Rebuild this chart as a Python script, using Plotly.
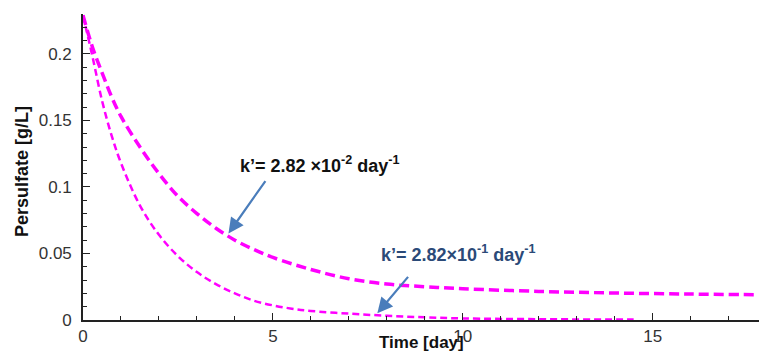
import plotly.graph_objects as go

# Upper curve (k' = 2.82e-2 day^-1)
upper_x = [0, 0.25, 0.5, 0.75, 1, 1.5, 2, 2.5, 3, 3.5, 4, 4.5, 5, 6, 7, 8, 9, 10, 12, 14, 16, 17.8]
upper_y = [0.229, 0.205, 0.186, 0.168, 0.153, 0.130, 0.110, 0.093, 0.080, 0.069, 0.060, 0.053,
           0.047, 0.038, 0.031, 0.027, 0.025, 0.0235, 0.0215, 0.0203, 0.0195, 0.019]

# Lower curve (k' = 2.82e-1 day^-1)
lower_x = [0, 0.25, 0.5, 0.75, 1, 1.5, 2, 2.5, 3, 3.5, 4, 4.5, 5, 5.5, 6, 7, 8, 9, 10, 12, 14.5]
lower_y = [0.229, 0.198, 0.165, 0.139, 0.118, 0.086, 0.064, 0.048, 0.036, 0.027, 0.020, 0.0145,
           0.011, 0.0085, 0.0068, 0.0048, 0.0032, 0.0020, 0.0012, 0.0006, 0.0003]

x_ticks = [0, 5, 10, 15]
y_ticks = [0, 0.05, 0.1, 0.15, 0.2]
y_tick_labels = ["0", "0.05", "0.1", "0.15", "0.2"]

x_title = "Time [day]"
y_title = "Persulfate [g/L]"
label_upper = "k’= 2.82 ×10<sup>-2</sup> day<sup>-1</sup>"
label_lower = "k’= 2.82×10<sup>-1</sup> day<sup>-1</sup>"

MAG = "#ff00ff"
ARROW = "#4a7dbb"
FONT = "Liberation Sans, Arial, sans-serif"

fig = go.Figure()
fig.add_trace(go.Scatter(x=upper_x, y=upper_y, mode="lines", line_shape="spline",
                         line=dict(color=MAG, width=3.5, dash="10px,5px"), showlegend=False))
fig.add_trace(go.Scatter(x=lower_x, y=lower_y, mode="lines", line_shape="spline",
                         line=dict(color=MAG, width=2.5, dash="7px,4px"), showlegend=False))

fig.update_layout(
    width=759, height=360,
    margin=dict(l=83, r=0, t=14, b=40),
    paper_bgcolor="white", plot_bgcolor="white",
    font=dict(family=FONT, size=17, color="#333333"),
    xaxis=dict(range=[0, 17.8], showgrid=False, zeroline=False, showline=True,
               linecolor="#222222", linewidth=1.6,
               tickmode="array", tickvals=x_ticks, ticktext=[str(v) for v in x_ticks],
               ticks="inside", ticklen=7, tickwidth=1.3, tickcolor="#222222",
               minor=dict(dtick=1, ticks="inside", ticklen=4, tickwidth=1.2, tickcolor="#222222"),
               tickfont=dict(size=17, color="#333333"), ticklabelstandoff=0),
    yaxis=dict(range=[0, 0.23], showgrid=False, zeroline=False, showline=True,
               linecolor="#222222", linewidth=1.6,
               tickmode="array", tickvals=y_ticks, ticktext=y_tick_labels,
               ticks="inside", ticklen=7, tickwidth=1.3, tickcolor="#222222",
               minor=dict(dtick=0.01, ticks="inside", ticklen=4, tickwidth=1.2, tickcolor="#222222"),
               tickfont=dict(size=17, color="#333333"), ticklabelstandoff=6),
)

# axis titles
fig.add_annotation(x=0.5, y=-0.072, xref="paper", yref="paper", text="<b>" + x_title + "</b>",
                   showarrow=False, xanchor="center", yanchor="middle",
                   font=dict(family=FONT, size=17, color="#111111"))
fig.add_annotation(x=-0.090, y=0.484, xref="paper", yref="paper", text="<b>" + y_title + "</b>",
                   showarrow=False, xanchor="center", yanchor="middle", textangle=-90,
                   font=dict(family=FONT, size=18, color="#111111"))

# text labels
fig.add_annotation(x=4.08, y=0.117, xref="x", yref="y", text="<b>" + label_upper + "</b>",
                   showarrow=False, xanchor="left", yanchor="middle",
                   font=dict(family=FONT, size=18, color="#111111"))
fig.add_annotation(x=7.80, y=0.050, xref="x", yref="y", text="<b>" + label_lower + "</b>",
                   showarrow=False, xanchor="left", yanchor="middle",
                   font=dict(family=FONT, size=18, color="#2b4a78"))

# arrows
fig.add_annotation(x=3.83, y=0.065, xref="x", yref="y", text="", showarrow=True,
                   ax=38, ay=-54, arrowhead=2, arrowsize=1.4, arrowwidth=2.2, arrowcolor=ARROW)
fig.add_annotation(x=7.75, y=0.005, xref="x", yref="y", text="", showarrow=True,
                   ax=32, ay=-38, arrowhead=2, arrowsize=1.4, arrowwidth=2.2, arrowcolor=ARROW)

fig.write_html("out.html")
